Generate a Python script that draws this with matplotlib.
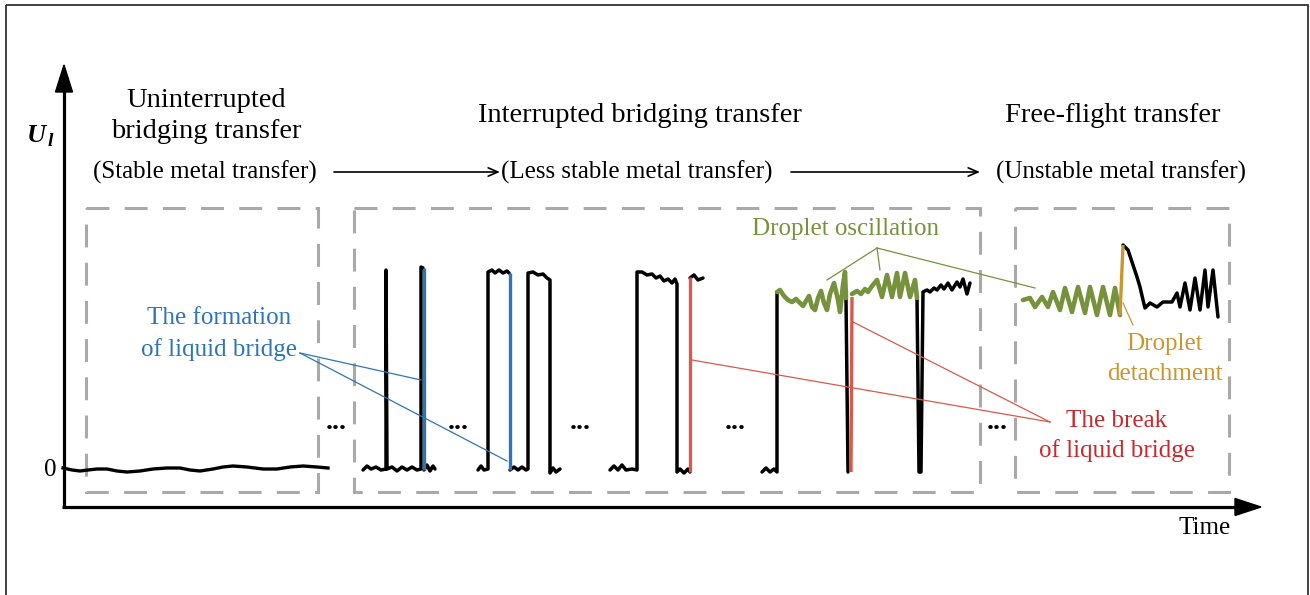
import matplotlib
matplotlib.use("Agg")
import matplotlib.pyplot as plt
from matplotlib.patches import Rectangle, Polygon

plt.rcParams['font.family'] = ['Liberation Serif', 'DejaVu Serif']

# colours
BLACK = '#000000'
BLUE = '#2E75B6'
GREEN = '#76923C'
GOLD = '#C9962F'
RED = '#C8282E'
RED_LINE = '#D9594C'
GREY = '#A9A9A9'

# waveform traces, drawn in canvas units (x to the right, y downwards)
stable_x = [63, 72, 80, 88, 97, 107, 117, 127, 140, 153, 167, 180, 190, 200, 213, 223, 233,
            247, 263, 277, 290, 303, 317, 328]
stable_y = [468, 470, 471, 470, 469, 469, 471, 472, 471, 469, 468, 468, 470, 471, 469, 467, 466,
            467, 469, 469, 467, 466, 467, 468]

black_traces = [
    # first pair of short circuits
    ([363, 367, 371, 376, 381, 386, 386, 387, 392, 397, 402, 407, 412, 417, 421, 421, 423],
     [470, 466, 469, 467, 470, 469, 270, 469, 467, 471, 467, 470, 467, 470, 469, 267, 268]),
    ([424, 427, 430, 433, 435],
     [470, 465, 471, 466, 469]),
    # second pair
    ([478, 481, 484, 488, 488, 492, 495, 499, 503, 507, 509],
     [470, 466, 470, 469, 272, 270, 273, 270, 273, 271, 273]),
    ([510, 514, 518, 522, 526, 528, 528, 533, 538, 543, 547, 550, 550, 553, 556, 560],
     [470, 467, 470, 467, 470, 469, 273, 272, 275, 274, 278, 280, 473, 468, 472, 469]),
    # third
    ([610, 614, 618, 622, 626, 632, 637, 637, 642, 647, 652, 656, 660, 664, 668, 672, 675, 677, 677, 680, 684, 688, 690],
     [470, 466, 470, 465, 470, 469, 470, 272, 272, 275, 274, 278, 276, 281, 279, 283, 279, 284, 472, 469, 473, 469, 472]),
    ([690, 694, 698, 703],
     [278, 275, 280, 278]),
    # fourth, with oscillating droplet
    ([762, 766, 770, 774, 777, 777],
     [472, 468, 472, 469, 472, 292]),
    ([846, 848],
     [298, 472]),
    ([917, 919, 921, 923, 927, 930, 934, 937, 941, 944, 948, 952, 957, 960, 963, 967, 970],
     [298, 472, 472, 292, 290, 292, 288, 290, 285, 289, 283, 290, 282, 287, 279, 294, 283]),
    # free-flight
    ([1123, 1128, 1132, 1137, 1140, 1143, 1145, 1150, 1157, 1163, 1172, 1177, 1180, 1185, 1190,
      1195, 1200, 1205, 1208, 1213, 1218],
     [245, 250, 262, 277, 287, 300, 308, 303, 307, 302, 302, 293, 307, 283, 310,
      278, 310, 270, 307, 270, 317]),
]

green_traces = [
    ([777, 780, 784, 788, 792, 796, 800, 803, 806, 809, 812, 815, 818, 821, 824, 827, 830, 834,
      838, 840, 843, 845, 846],
     [292, 290, 296, 300, 302, 299, 303, 306, 301, 296, 307, 310, 298, 291, 303, 310, 294, 283,
      300, 312, 285, 272, 298]),
    ([852, 857, 861, 865, 868, 872, 877, 882, 887, 892, 897, 900, 905, 910, 915, 917],
     [294, 291, 294, 289, 292, 286, 280, 297, 275, 297, 273, 297, 273, 297, 280, 298]),
    ([1023, 1030, 1035, 1042, 1048, 1053, 1060, 1065, 1072, 1078, 1085, 1090, 1097, 1103, 1110,
      1115, 1120],
     [300, 298, 307, 297, 307, 292, 310, 288, 312, 287, 313, 287, 315, 287, 315, 288, 315]),
]

blue_bridges = [([424, 424], [268, 470]), ([510, 510], [273, 470])]
red_breaks = [([690, 690], [472, 277]), ([851, 852], [472, 297])]
gold_detach = ([1120, 1123], [315, 245])

fig = plt.figure(figsize=(13.1, 5.95), dpi=100)
ax = fig.add_axes([0, 0, 1, 1])
ax.set_xlim(0, 1310)
ax.set_ylim(595, 0)
ax.axis('off')

# outer frame
ax.add_patch(Rectangle((6, 5), 1302, 600, fill=False, ec='#333333', lw=1.3))

# dashed regime boxes
for x0, x1 in [(86, 318), (354, 980), (1015, 1229)]:
    ax.add_patch(Rectangle((x0, 208), x1 - x0, 284, fill=False, ec=GREY, lw=2.2,
                           linestyle=(0, (7.5, 5))))

# axes with arrowheads
ax.plot([64, 64], [508, 90], color=BLACK, lw=2.3, solid_capstyle='butt')
ax.add_patch(Polygon([[55.5, 92], [72.5, 92], [64, 65]], closed=True, color=BLACK))
ax.plot([62, 1237], [507, 507], color=BLACK, lw=2.3, solid_capstyle='butt')
ax.add_patch(Polygon([[1235, 498.5], [1235, 515.5], [1261, 507]], closed=True, color=BLACK))

ax.text(36, 136, 'U', fontsize=19, fontweight='bold', fontstyle='italic', ha='center', va='center')
ax.text(50, 141, 'l', fontsize=14, fontweight='bold', fontstyle='italic', ha='center', va='center')
ax.text(50, 470, '0', fontsize=18, ha='center', va='center')
ax.text(1205, 528, 'Time', fontsize=18, ha='center', va='center')

# regime headers
ax.text(206, 116, 'Uninterrupted\nbridging transfer', fontsize=20.5, ha='center', va='center',
        linespacing=1.32)
ax.text(205, 172, '(Stable metal transfer)', fontsize=18, ha='center', va='center')
ax.text(640, 116, 'Interrupted bridging transfer', fontsize=20.5, ha='center', va='center')
ax.text(637, 172, '(Less stable metal transfer)', fontsize=18, ha='center', va='center')
ax.text(1113, 116, 'Free-flight transfer', fontsize=20.5, ha='center', va='center')
ax.text(1121, 172, '(Unstable metal transfer)', fontsize=18, ha='center', va='center')
for xa, xb in [(334, 500), (791, 980)]:
    ax.annotate('', xy=(xb, 172), xytext=(xa, 172),
                arrowprops=dict(arrowstyle='->,head_length=0.7,head_width=0.3', lw=1.2,
                                color=BLACK, shrinkA=0, shrinkB=0))

# waveforms
ax.plot(stable_x, stable_y, color=BLACK, lw=2.4, solid_joinstyle='round')
for xs, ys in black_traces:
    ax.plot(xs, ys, color=BLACK, lw=2.5, solid_joinstyle='round', solid_capstyle='round')
for xs, ys in green_traces:
    ax.plot(xs, ys, color=GREEN, lw=3.3, solid_joinstyle='round', solid_capstyle='round')
for xs, ys in blue_bridges:
    ax.plot(xs, ys, color=BLUE, lw=2.4, solid_capstyle='butt')
for xs, ys in red_breaks:
    ax.plot(xs, ys, color=RED_LINE, lw=2.4, solid_capstyle='butt')
ax.plot(*gold_detach, color=GOLD, lw=2.4, solid_capstyle='butt')

# gaps in time
for xd in [336, 458, 580, 735, 997]:
    ax.text(xd, 429, '...', fontsize=20, fontweight='bold', ha='center', va='baseline')

# annotations
ax.text(219, 334, 'The formation\nof liquid bridge', color=BLUE, fontsize=18,
        ha='center', va='center', linespacing=1.45)
for xe, ye in [(421, 380), (507, 461)]:
    ax.plot([300, xe], [353, ye], color=BLUE, lw=0.9)

ax.text(845, 229, 'Droplet oscillation', color=GREEN, fontsize=18, ha='center', va='center')
for xe, ye in [(827, 280), (880, 270), (1035, 288)]:
    ax.plot([877, xe], [248, ye], color=GREEN, lw=0.9)

ax.text(1165, 359, 'Droplet\ndetachment', color=GOLD, fontsize=18, ha='center', va='center',
        linespacing=1.5)
ax.plot([1123, 1133], [303, 325], color=GOLD, lw=0.9)

ax.text(1117, 436, 'The break\nof liquid bridge', color=RED, fontsize=18, ha='center',
        va='center', linespacing=1.4)
for xs, ys in [(692, 360), (853, 322)]:
    ax.plot([xs, 1050], [ys, 422], color=RED_LINE, lw=0.9)

fig.savefig('out.png', dpi=100)
